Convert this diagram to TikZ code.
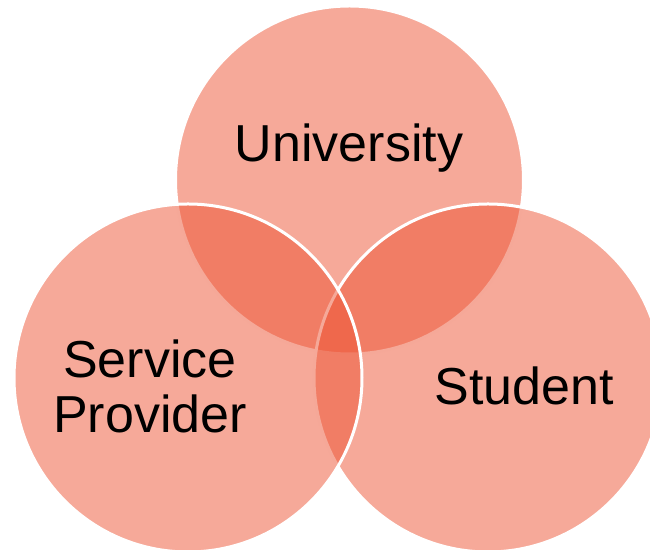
\documentclass[tikz,border=0pt]{standalone}
\usepackage{fontspec}
\setmainfont{Liberation Sans}
\usepackage{tikz}
\usetikzlibrary{positioning}
\definecolor{petal}{HTML}{ED5333}
\definecolor{ink}{HTML}{000000}

\begin{document}
\begin{tikzpicture}[x=0.5pt,y=0.5pt,
  venn/.style={circle, minimum size=174pt, inner sep=0pt, fill=petal, fill opacity=0.5, draw=white, draw opacity=1, line width=1.5pt},
  label/.style={text=ink, font=\fontsize{26}{27.5}\selectfont, align=center, anchor=base, inner sep=0pt}]
\useasboundingbox (0,0) rectangle (650,550);
\clip (0,0) rectangle (650,550);
% circles, back to front
\node[venn] (university) at (349.5,370) {};
\node[venn] (student) at (488,172) {};
\node[venn] (provider) at (188,172) {};
% names
\node[label] (universitytext) at (349,388) {University};
\node[label] (providertext) at (150,117) {Service\\Provider};
\node[label] (studenttext) at (524,145) {Student};
\end{tikzpicture}
\end{document}
